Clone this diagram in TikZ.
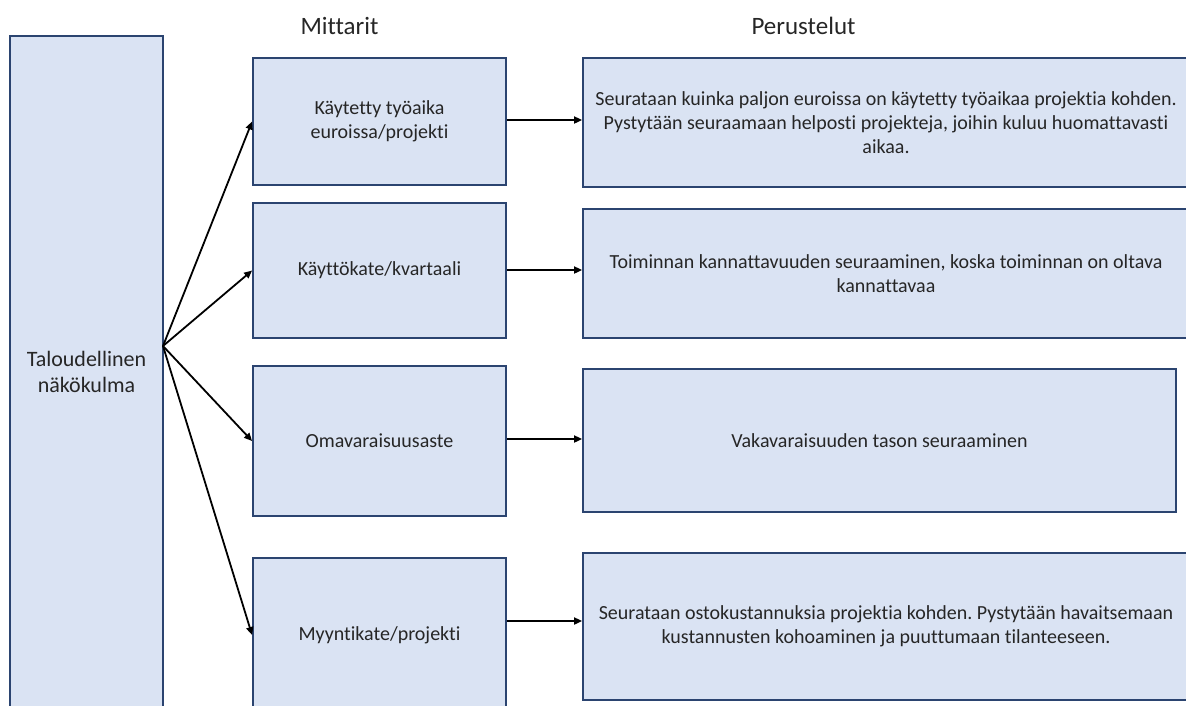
\documentclass[tikz,border=0pt]{standalone}
\usepackage{fontspec}
\setmainfont{Carlito}[Ligatures=NoCommon]
\usetikzlibrary{arrows.meta}
\definecolor{boxfill}{HTML}{DAE3F3}
\definecolor{boxline}{HTML}{2B4470}
\definecolor{txt}{HTML}{262626}
\frenchspacing

\begin{document}
\begin{tikzpicture}[x=1pt, y=-1pt,
  box/.style={draw=boxline, fill=boxfill, line width=1.8pt, inner sep=0pt,
    align=center, text=txt, font=\fontsize{20}{24}\selectfont},
  head/.style={text=txt, font=\fontsize{25}{30}\selectfont},
  link/.style={-{Triangle[length=8pt, width=7pt]}, line width=1.8pt}]
  \useasboundingbox (0,0) rectangle (1186,705);
  \clip (0,0) rectangle (1186,705);
  % headers
  \node[head] (hmit) at (339.5,26) {Mittarit};
  \node[head] (hper) at (803.5,26) {Perustelut};
  % perspective
  \node[box, minimum width=153pt, minimum height=672pt,
        font=\fontsize{22}{26.5}\selectfont] (left) at (86.5,372)
        {Taloudellinen\\näkökulma};
  % measures
  \node[box, minimum width=253pt, minimum height=127pt] (m1) at (379.5,121.5)
        {Käytetty työaika\\euroissa/projekti};
  \node[box, minimum width=253pt, minimum height=135pt] (m2) at (379.5,270.5)
        {Käyttökate/kvartaali};
  \node[box, minimum width=253pt, minimum height=150pt] (m3) at (379.5,441)
        {Omavaraisuusaste};
  \node[box, minimum width=253pt, minimum height=154pt] (m4) at (379.5,635)
        {Myyntikate/projekti};
  % reasons
  \node[box, minimum width=606pt, minimum height=129pt] (r1) at (886,122.5)
        {Seurataan kuinka paljon euroissa on käytetty työaikaa projektia kohden.\\
         Pystytään seuraamaan helposti projekteja, joihin kuluu huomattavasti\\
         aikaa.};
  \node[box, minimum width=606pt, minimum height=129pt] (r2) at (886,273.5)
        {Toiminnan kannattavuuden seuraaminen, koska toiminnan on oltava\\
         kannattavaa};
  \node[box, minimum width=593pt, minimum height=143pt] (r3) at (879.5,440.5)
        {Vakavaraisuuden tason seuraaminen};
  \node[box, minimum width=606pt, minimum height=147pt] (r4) at (886,626.5)
        {Seurataan ostokustannuksia projektia kohden. Pystytään havaitsemaan\\
         kustannusten kohoaminen ja puuttumaan tilanteeseen.};
  % arrows
  \coordinate (hub) at (163,346);
  \foreach \i in {1,...,4}
    \draw[link] (hub) -- (m\i.west);
  \foreach \i/\dy in {1/1.5, 2/0.5, 3/2, 4/14}
    \draw[link] ([yshift=\dy pt]m\i.east) -- ([yshift=\dy pt]m\i.east -| r\i.west);
\end{tikzpicture}
\end{document}
